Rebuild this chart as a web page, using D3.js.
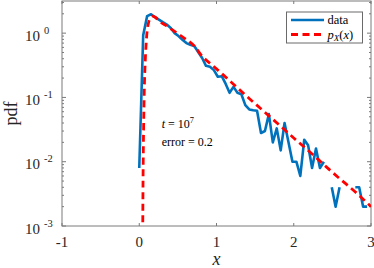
<!DOCTYPE html>
<html>
<head>
<meta charset="utf-8">
<script src="https://cdn.jsdelivr.net/npm/d3@7"></script>
<style>
  body { margin: 0; background: #fff; }
  svg { display: block; }
  svg text { font-family: "Liberation Serif", "Times New Roman", "DejaVu Serif", serif; }
  .tick-label { fill: #262626; font-size: 15px; }
</style>
</head>
<body>
<div id="chart"></div>
<script>
// histogram bin centres and measured pdf (null = empty bin)
var binX = [0.000, 0.051, 0.102, 0.153, 0.203, 0.254, 0.305, 0.356, 0.407, 0.458,
            0.508, 0.559, 0.610, 0.661, 0.712, 0.763, 0.814, 0.864, 0.915, 0.966,
            1.017, 1.068, 1.119, 1.169, 1.220, 1.271, 1.322, 1.373, 1.424, 1.475,
            1.525, 1.576, 1.627, 1.678, 1.729, 1.780, 1.831, 1.881, 1.932, 1.983,
            2.034, 2.085, 2.136, 2.186, 2.237, 2.288, 2.339, 2.390, 2.441, 2.492,
            2.542, 2.593, 2.644, 2.695, 2.746, 2.797, 2.847, 2.898, 2.949, 3.000];
var dataPdf = [0.008, 0.93, 1.84, 1.97, 1.77, 1.62, 1.48, 1.36, 1.20, 1.00,
               0.90, 0.79, 0.70, 0.66, 0.63, 0.51, 0.41, 0.31, 0.30, 0.266,
               0.21, 0.214, 0.162, 0.118, 0.146, 0.118, 0.112, 0.076, 0.065, 0.063,
               0.062, 0.028, 0.030, 0.055, 0.020, 0.033, 0.015, 0.040, 0.020, 0.010,
               0.010, 0.006, 0.022, 0.018, 0.008, 0.016, 0.008, 0.010, null, 0.004,
               0.002, 0.004, null, null, null, 0.004, 0.004, 0.002, 0.002, null];

// theoretical density p_X(x)
var theoryX = [0.044, 0.049, 0.056, 0.065, 0.078, 0.097, 0.116, 0.142, 0.168, 0.207,
               0.259, 0.362, 0.479, 0.582, 0.712, 0.815, 0.957, 1.087, 1.216, 1.345,
               1.475, 1.604, 1.850, 2.018, 2.238, 2.432, 2.562, 2.820, 3.000];
var theoryPdf = [0.0005, 0.0051, 0.031, 0.13, 0.38, 0.93, 1.38, 1.71, 1.84, 1.77,
                 1.54, 1.28, 1.02, 0.84, 0.63, 0.437, 0.309, 0.224, 0.162, 0.117,
                 0.085, 0.062, 0.034, 0.0224, 0.0132, 0.0081, 0.0059, 0.0032, 0.0020];

var xTicks = [-1, 0, 1, 2, 3];
var yExponents = [-3, -2, -1, 0];

var serif = "'Liberation Serif', 'Times New Roman', 'DejaVu Serif', serif";

var margin = { top: 1, right: 3, bottom: 42, left: 62 };
var width = 374 - margin.left - margin.right,
    height = 268 - margin.top - margin.bottom;

var svg = d3.select("#chart").append("svg")
    .attr("width", 374)
    .attr("height", 268)
    .attr("font-family", serif);

var g = svg.append("g")
    .attr("transform", "translate(" + margin.left + "," + margin.top + ")");

var x = d3.scaleLinear().domain([-1, 3]).range([0, width]);
var y = d3.scaleLog().domain([1e-3, Math.pow(10, 0.5)]).range([height, 0]);

g.append("clipPath").attr("id", "clip")
    .append("rect").attr("width", width).attr("height", height);

var axisColor = "#7a7a7a";
var tickLen = 3;

// x ticks (bottom + top, inward)
xTicks.forEach(function(t) {
    g.append("line").attr("x1", x(t)).attr("x2", x(t))
        .attr("y1", height).attr("y2", height - tickLen)
        .attr("stroke", axisColor);
    g.append("line").attr("x1", x(t)).attr("x2", x(t))
        .attr("y1", 0).attr("y2", tickLen)
        .attr("stroke", axisColor);
    g.append("text").attr("class", "tick-label")
        .attr("font-family", serif)
        .attr("x", x(t)).attr("y", height + 20.5)
        .attr("text-anchor", "middle")
        .text(t);
});

// y ticks: majors and minors on both sides
var minor = [];
yExponents.forEach(function(e) {
    for (var m = 1; m <= 9; m++) {
        var v = m * Math.pow(10, e);
        if (v <= y.domain()[1]) minor.push({ v: v, major: m === 1 });
    }
});
minor.forEach(function(d) {
    var len = d.major ? tickLen + 1 : 2;
    g.append("line").attr("x1", 0).attr("x2", len)
        .attr("y1", y(d.v)).attr("y2", y(d.v))
        .attr("stroke", axisColor);
    g.append("line").attr("x1", width).attr("x2", width - len)
        .attr("y1", y(d.v)).attr("y2", y(d.v))
        .attr("stroke", axisColor);
});

yExponents.forEach(function(e) {
    var t = g.append("text").attr("class", "tick-label")
        .attr("font-family", serif)
        .attr("x", 25 - margin.left)
        .attr("y", y(Math.pow(10, e)) + 7.5);
    t.append("tspan").text("10");
    t.append("tspan").attr("dx", 4).attr("dy", -7)
        .style("font-size", "10.5px").text(e === 0 ? "0" : "-" + Math.abs(e));
});

// box
g.append("rect")
    .attr("width", width).attr("height", height)
    .attr("fill", "none").attr("stroke", axisColor);

// data line
var line = d3.line()
    .defined(function(d) { return d[1] !== null; })
    .x(function(d) { return x(d[0]); })
    .y(function(d) { return y(d[1]); });

var plot = g.append("g").attr("clip-path", "url(#clip)");

plot.append("path")
    .datum(d3.zip(binX, dataPdf))
    .attr("fill", "none")
    .attr("stroke", "#0072bd")
    .attr("stroke-width", 2.6)
    .attr("stroke-linejoin", "round")
    .attr("d", line);

plot.append("path")
    .datum(d3.zip(theoryX, theoryPdf))
    .attr("fill", "none")
    .attr("stroke", "#ff0000")
    .attr("stroke-width", 2.8)
    .attr("stroke-dasharray", "7,4.5")
    .attr("d", line.curve(d3.curveMonotoneX));

// annotations
var ann1 = g.append("text").attr("x", x(0.29)).attr("y", 126.5)
    .attr("font-family", serif)
    .style("font-size", "12px").attr("fill", "#000");
ann1.append("tspan").style("font-style", "italic").text("t");
ann1.append("tspan").text(" = 10");
ann1.append("tspan").attr("dy", -4.5).style("font-size", "8.5px").text("7");

g.append("text").attr("x", x(0.29)).attr("y", 144.5)
    .attr("font-family", serif)
    .style("font-size", "12px").attr("fill", "#000")
    .text("error = 0.2");

// legend
var legend = g.append("g")
    .attr("transform", "translate(" + (286.5 - margin.left) + "," + (12 - margin.top) + ")");
legend.append("rect")
    .attr("width", 76).attr("height", 31)
    .attr("fill", "#fff").attr("stroke", "#6a6a6a");
legend.append("line").attr("x1", 4.5).attr("x2", 37.5).attr("y1", 8).attr("y2", 8)
    .attr("stroke", "#0072bd").attr("stroke-width", 2.6);
legend.append("text").attr("x", 41).attr("y", 12)
    .attr("font-family", serif)
    .style("font-size", "12.5px").text("data");
legend.append("line").attr("x1", 4.5).attr("x2", 37.5).attr("y1", 22.5).attr("y2", 22.5)
    .attr("stroke", "#ff0000").attr("stroke-width", 2.8)
    .attr("stroke-dasharray", "7,4.5");
var lt = legend.append("text").attr("x", 41).attr("y", 26.5)
    .attr("font-family", serif)
    .style("font-size", "12.5px");
lt.append("tspan").style("font-style", "italic").text("p");
lt.append("tspan").attr("dy", 2.5).style("font-size", "9px").style("font-style", "italic").text("X");
lt.append("tspan").attr("dy", -2.5).text("(");
lt.append("tspan").style("font-style", "italic").text("x");
lt.append("tspan").text(")");

// axis labels
svg.append("text")
    .attr("transform", "translate(17," + (margin.top + height / 2) + ") rotate(-90)")
    .attr("text-anchor", "middle")
    .attr("font-family", serif)
    .style("font-size", "18px").attr("fill", "#262626")
    .text("pdf");

svg.append("text")
    .attr("x", margin.left + x(1)).attr("y", 265)
    .attr("text-anchor", "middle")
    .attr("font-family", serif)
    .style("font-size", "18px").style("font-style", "italic").attr("fill", "#262626")
    .text("x");
</script>
</body>
</html>
